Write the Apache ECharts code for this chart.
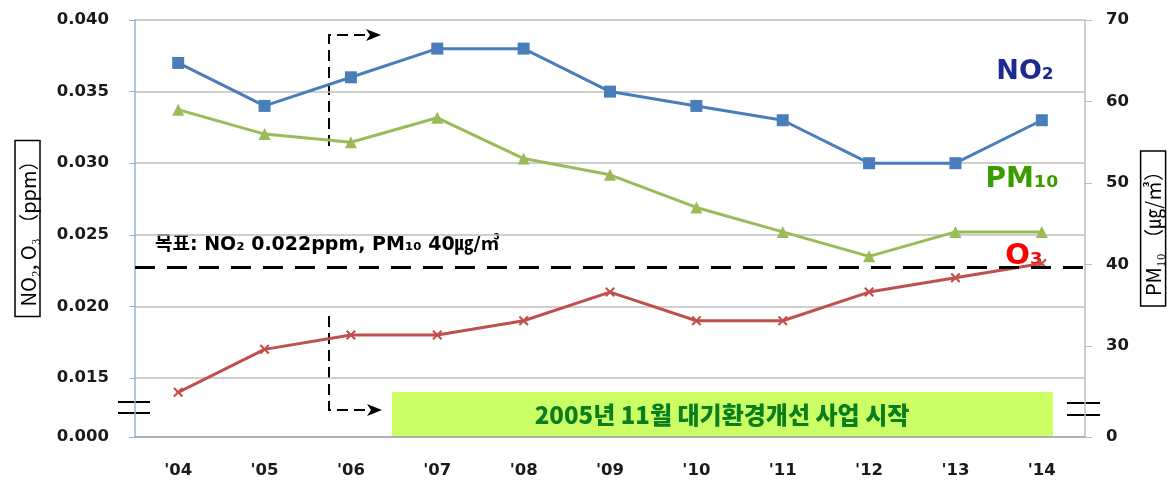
<!DOCTYPE html>
<html><head><meta charset="utf-8">
<script src="https://cdn.jsdelivr.net/npm/echarts@6/dist/echarts.min.js"></script>
<style>html,body{margin:0;padding:0;background:#fff}#c{width:1167px;height:485px}</style>
</head><body><div id="c"></div>
<script>
const years = ["'04","'05","'06","'07","'08","'09","'10","'11","'12","'13","'14"];
const no2 = [0.037,0.034,0.036,0.038,0.038,0.035,0.034,0.033,0.030,0.030,0.033];
const o3 = [0.014,0.017,0.018,0.018,0.019,0.021,0.019,0.019,0.021,0.022,0.023];
const pm10 = [59,56,55,58,53,51,47,44,41,44,44];
const leftTicks = [0.01088,0.015,0.020,0.025,0.030,0.035,0.040];
const rightTicks = [18.83,30,40,50,60,70];
const pmTarget = 39.6;
const targetText = '목표: NO₂ 0.022ppm, PM₁₀ 40㎍/㎥';
const eventText = '2005년 11월 대기환경개선 사업 시작';

const chart = echarts.init(document.getElementById('c'));
const tickFont = {fontFamily:'DejaVu Sans', fontWeight:'bold', fontSize:16.5, color:'#1a1a1a'};
const crossPath = 'path://M0,1.5 L1.5,0 L5,3.5 L8.5,0 L10,1.5 L6.5,5 L10,8.5 L8.5,10 L5,6.5 L1.5,10 L0,8.5 L3.5,5 Z';
const dash = [11,6];
const nameStyle = {fontFamily:'Noto Sans CJK KR',fontSize:20,color:'#000',borderColor:'#000',borderWidth:1.5,padding:[3,10,2,10]};
chart.setOption({
  animation:false,
  backgroundColor:'#fff',
  grid:{left:135,right:82,top:20,bottom:48,outerBoundsMode:'none'},
  xAxis:{type:'category',data:years,boundaryGap:true,
    axisLine:{lineStyle:{color:'#a6a6a6',width:1.5}},
    axisTick:{show:false},
    axisLabel:Object.assign({margin:25},tickFont)},
  yAxis:[
    {type:'value',min:leftTicks[0],max:0.040,position:'left',
     name:'NO₂, O₃ （ppm）',nameLocation:'middle',nameRotate:90,nameGap:95,
     nameTextStyle:nameStyle,
     axisLine:{show:true,lineStyle:{color:'#8db4e2',width:1.5}},
     axisTick:{show:true,customValues:leftTicks,length:6,lineStyle:{color:'#8db4e2'}},
     axisLabel:Object.assign({customValues:leftTicks,margin:26,formatter:v=>v<0.0125?'0.000':v.toFixed(3)},tickFont),
     splitLine:{show:true,lineStyle:{color:'#bfbfbf',width:1.5}}},
    {type:'value',min:rightTicks[0],max:70,position:'right',
     name:'PM₁₀ （㎍/㎥）',nameLocation:'middle',nameRotate:90,nameGap:55,
     nameTextStyle:nameStyle,
     axisLine:{show:true,lineStyle:{color:'#bfbfbf',width:1.5}},
     axisTick:{show:true,customValues:rightTicks,length:7,lineStyle:{color:'#bfbfbf'}},
     axisLabel:Object.assign({customValues:rightTicks,margin:21,formatter:v=>v<20?'0':String(v)},tickFont),
     splitLine:{show:false}}
  ],
  series:[
    {name:'NO₂',type:'line',yAxisIndex:0,data:no2,symbol:'rect',symbolSize:12,
     lineStyle:{color:'#4a7ebb',width:3},itemStyle:{color:'#4a7ebb'},z:3},
    {name:'PM₁₀',type:'line',yAxisIndex:1,data:pm10,symbol:'triangle',symbolSize:12,
     lineStyle:{color:'#9bbb59',width:3},itemStyle:{color:'#9bbb59'},z:3,
     markLine:{silent:true,symbol:'none',label:{show:false},
       lineStyle:{color:'#000',type:[20,12],width:3},data:[{yAxis:pmTarget}]}},
    {name:'O₃',type:'line',yAxisIndex:0,data:o3,symbol:crossPath,symbolSize:10,
     lineStyle:{color:'#c0504d',width:3},itemStyle:{color:'#c0504d'},z:3}
  ],
  graphic:[
    {type:'line',shape:{x1:118,y1:402,x2:150,y2:402},style:{stroke:'#000',lineWidth:2}},
    {type:'line',shape:{x1:118,y1:413,x2:150,y2:413},style:{stroke:'#000',lineWidth:2}},
    {type:'line',shape:{x1:1067,y1:403,x2:1100,y2:403},style:{stroke:'#000',lineWidth:2}},
    {type:'line',shape:{x1:1067,y1:415,x2:1100,y2:415},style:{stroke:'#000',lineWidth:2}},
    {type:'polyline',shape:{points:[[329,146],[329,35],[368,35]]},style:{stroke:'#000',lineWidth:2,fill:null,lineDash:dash}},
    {type:'polygon',shape:{points:[[366,29],[381,35],[366,41],[370,35]]},style:{fill:'#000'}},
    {type:'polyline',shape:{points:[[329,316],[329,410],[370,410]]},style:{stroke:'#000',lineWidth:2,fill:null,lineDash:dash}},
    {type:'polygon',shape:{points:[[367,404],[382,410],[367,416],[371,410]]},style:{fill:'#000'}},
    {type:'rect',shape:{x:392,y:392,width:661,height:44},style:{fill:'#ccff66'}},
    {type:'text',x:722,y:415,style:{text:eventText,fill:'#0a7d1e',font:'900 24px "Noto Sans CJK KR"',align:'center',verticalAlign:'middle'}},
    {type:'text',x:155,y:245,style:{text:targetText,fill:'#000',font:'bold 19px "DejaVu Sans", "Noto Sans CJK KR"',align:'left',verticalAlign:'middle'}},
    {type:'text',x:1025,y:72,style:{text:'NO₂',fill:'#1f2a8f',font:'bold 27px "DejaVu Sans"',align:'center',verticalAlign:'middle'}},
    {type:'text',x:1022,y:180,style:{text:'PM₁₀',fill:'#3a9c00',font:'bold 28px "DejaVu Sans"',align:'center',verticalAlign:'middle'}},
    {type:'text',x:1024,y:256,style:{text:'O₃',fill:'#ff0000',font:'bold 29px "DejaVu Sans"',align:'center',verticalAlign:'middle'}}
  ]
});
</script></body></html>
